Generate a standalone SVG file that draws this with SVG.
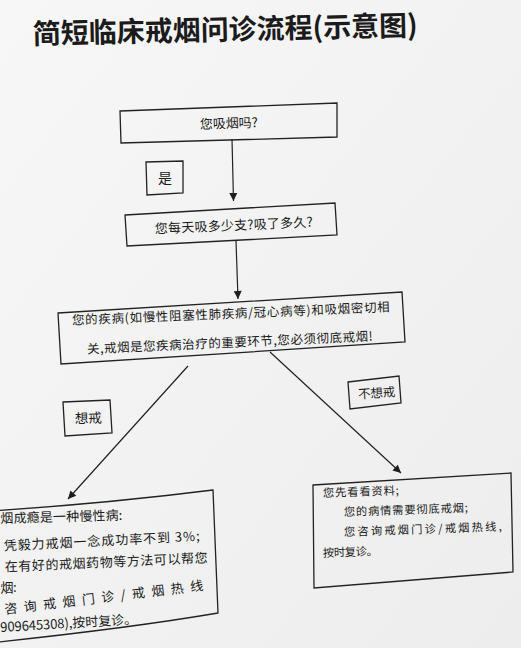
<svg xmlns="http://www.w3.org/2000/svg" width="521" height="648" viewBox="0 0 521 648">
<defs>
<linearGradient id="bg" x1="0" y1="0" x2="1" y2="1">
<stop offset="0" stop-color="#f7f7f7"/>
<stop offset="1" stop-color="#ededed"/>
</linearGradient>
<marker id="ah" viewBox="0 0 10 10" refX="10" refY="5" markerWidth="9" markerHeight="8" markerUnits="userSpaceOnUse" orient="auto">
<path d="M0,0 L10,5 L0,10 Z" fill="#1e1e1e"/>
</marker>
</defs>
<style>
.box{fill:none;stroke:#222;stroke-width:1.3;stroke-linejoin:miter}
.t{font-family:"Noto Sans CJK SC","Noto Sans CJK JP",sans-serif;fill:#1b1b1b}
.c{stroke:#222;stroke-width:1.2;fill:none}
</style>
<rect width="521" height="648" fill="url(#bg)"/>
<g id="title">
<text class="t" x="33" y="44" font-size="28" font-weight="700" textLength="385" lengthAdjust="spacingAndGlyphs" transform="rotate(-1.3 33 44)">简短临床戒烟问诊流程(示意图)</text>
</g>
<g id="connectors">
<line class="c" x1="232" y1="139" x2="233.5" y2="201" marker-end="url(#ah)"/>
<line class="c" x1="236" y1="241" x2="238" y2="299" marker-end="url(#ah)"/>
<line class="c" x1="188" y1="366" x2="68" y2="499" marker-end="url(#ah)"/>
<line class="c" x1="270" y1="352" x2="401" y2="473" marker-end="url(#ah)"/>
</g>
<g id="n-smoke">
<polygon class="box" points="120,111 337,103 337,137 121,143"/>
<text class="t" x="229" y="128" font-size="13" text-anchor="middle" textLength="58" transform="rotate(-2 229 128)">您吸烟吗?</text>
</g>
<g id="l-yes">
<polygon class="box" points="146,162 183,161 183,193 147,195"/>
<text class="t" x="165" y="183" font-size="14" text-anchor="middle">是</text>
</g>
<g id="n-amount">
<polygon class="box" points="125,215 335,203 337,235 127,246"/>
<text class="t" x="234" y="230" font-size="13" text-anchor="middle" textLength="158" transform="rotate(-2.5 234 230)">您每天吸多少支?吸了多久?</text>
</g>
<g id="n-disease">
<polygon class="box" points="58,313 402,292 405,342 61,364"/>
<text class="t" x="231" y="318" font-size="12.5" text-anchor="middle" textLength="318" transform="rotate(-2.4 231 318)">您的疾病(如慢性阻塞性肺疾病/冠心病等)和吸烟密切相</text>
<text class="t" x="230" y="347" font-size="12.5" text-anchor="middle" textLength="286" transform="rotate(-2.6 230 347)">关,戒烟是您疾病治疗的重要环节,您必须彻底戒烟!</text>
</g>
<g id="l-want">
<polygon class="box" points="63,402 110,400 112,433 65,436"/>
<text class="t" x="88.5" y="423" font-size="13.5" text-anchor="middle" textLength="27" transform="rotate(-2 88.5 423)">想戒</text>
</g>
<g id="l-notwant">
<polygon class="box" points="348,382 399,376 401,403 350,409"/>
<text class="t" x="377" y="397.5" font-size="12.5" text-anchor="middle" textLength="37" transform="rotate(-4 377 397.5)">不想戒</text>
</g>
<g id="n-quit">
<path class="box" d="M-2,510.5 Q110,503 213,490 L218,613 Q130,628 -2,642"/>
<text class="t" x="0.5" y="523" font-size="13" textLength="122" transform="rotate(-1.5 0.5 523)">烟成瘾是一种慢性病:</text>
<text class="t" x="4" y="550.5" font-size="13" textLength="196" transform="rotate(-2.9 4 550.5)">凭毅力戒烟一念成功率不到 3%;</text>
<text class="t" x="5" y="571.5" font-size="13" textLength="203" transform="rotate(-2.6 5 571.5)">在有好的戒烟药物等方法可以帮您</text>
<text class="t" x="0.5" y="591.5" font-size="13" textLength="16">烟:</text>
<text class="t" x="5" y="614" font-size="13" textLength="200" transform="rotate(-6.9 5 614)">咨 询 戒 烟 门 诊 / 戒 烟 热 线</text>
<text class="t" x="0.5" y="632" font-size="13" textLength="137" transform="rotate(-3.5 0.5 632)">909645308),按时复诊。</text>
</g>
<g id="n-notquit">
<polygon class="box" points="313,485 511,473 513,572 314,588"/>
<text class="t" x="323" y="497" font-size="11.3" textLength="76" transform="rotate(-2 323 497)">您先看看资料;</text>
<text class="t" x="344" y="516" font-size="11.3" textLength="124" transform="rotate(-2 344 516)">您的病情需要彻底戒烟;</text>
<text class="t" x="344" y="536" font-size="11.3" textLength="158" transform="rotate(-2 344 536)">您咨询戒烟门诊/戒烟热线,</text>
<text class="t" x="323" y="557" font-size="11.3" textLength="55" transform="rotate(-2 323 557)">按时复诊。</text>
</g>
</svg>
